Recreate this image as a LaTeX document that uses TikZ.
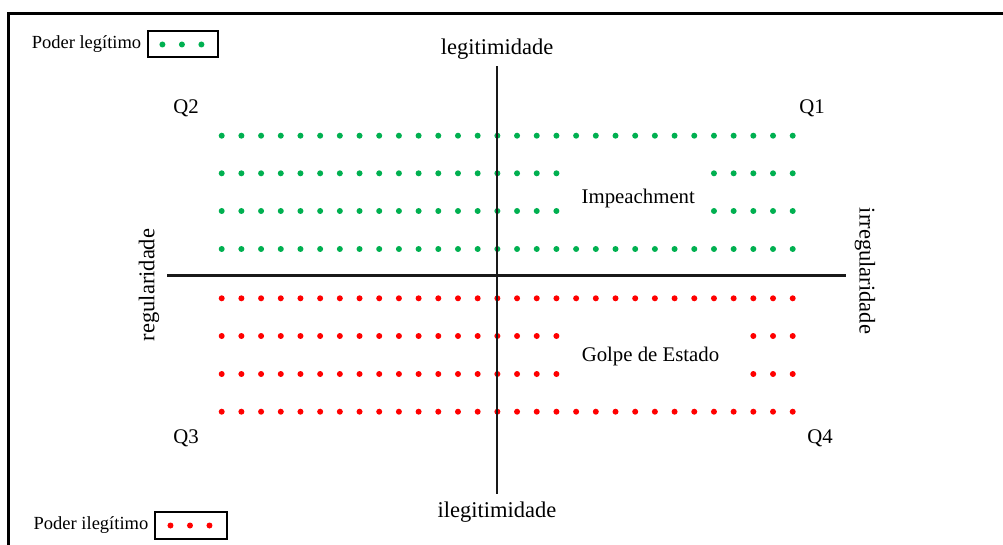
\documentclass[tikz,border=0pt]{standalone}
\usepackage{fontspec}
\setmainfont{Liberation Serif}
\usetikzlibrary{positioning,calc}

\definecolor{legit}{RGB}{0,176,80}
\definecolor{ilegit}{RGB}{255,0,0}

\begin{document}
\begin{tikzpicture}[x=1pt,y=-1pt,node distance=6pt]
\tikzstyle{lbl}=[inner sep=0pt, font=\fontsize{20.8}{24}\selectfont]
\tikzstyle{axlbl}=[inner sep=0pt, font=\fontsize{22.5}{26}\selectfont]
\tikzstyle{leg}=[inner sep=0pt, font=\fontsize{18.5}{22}\selectfont]
\tikzstyle{legbox}=[draw, line width=2pt, minimum width=70pt, minimum height=26pt, inner sep=0pt]
\tikzstyle{axis}=[line width=2.2pt, black!90]
\useasboundingbox (0,0) rectangle (1003,545);
\clip (0,0) rectangle (1003,545);
\draw[line width=2.5pt] (1010,13.5) -- (8.5,13.5) -- (8.5,560);

% legenda
\node[leg] (lgtxt) at (86.5,44.5) {Poder legítimo};
\node[legbox, right=6pt of lgtxt] (lgbox) {};
\node[leg] (iltxt) at (91,525.5) {Poder ilegítimo};
\node[legbox, right=6pt of iltxt, minimum width=72pt, minimum height=27pt] (ilbox) {};
\foreach \dx in {-21,-1.5,18} {
  \fill[legit] ($(lgbox.center)+(\dx,0)$) circle (3pt);
  \fill[ilegit] ($(ilbox.center)+(\dx,0)$) circle (3pt);
}

% pontos
\foreach \y in {135.7,249}
  \foreach \i in {0,...,29}
    \fill[legit] (221.7+19.69*\i,\y) circle (3pt);
\foreach \y in {173.3,211}
  \foreach \i in {0,...,17,25,26,...,29}
    \fill[legit] (221.7+19.69*\i,\y) circle (3pt);
\foreach \y in {298.3,411.7}
  \foreach \i in {0,...,29}
    \fill[ilegit] (221.7+19.69*\i,\y) circle (3pt);
\foreach \y in {336,374}
  \foreach \i in {0,...,17,27,28,29}
    \fill[ilegit] (221.7+19.69*\i,\y) circle (3pt);

% eixos
\coordinate (ytop) at (497,66.5);
\coordinate (ybot) at (497,494);
\coordinate (xlft) at (167,275.5);
\coordinate (xrgt) at (846,275.5);
\draw[axis] (ytop) -- (ybot);
\draw[axis] (xlft) -- (xrgt);

\node[axlbl, above=7pt of ytop] (legitim) {legitimidade};
\node[axlbl, below=8pt of ybot] (ilegitim) {ilegitimidade};
\node[axlbl, rotate=90] (regul) at (149,285) {regularidade};
\node[axlbl, rotate=-90] (irregul) at (865,271) {irregularidade};

\node[lbl] (q1) at (812,108) {Q1};
\node[lbl] (q2) at (186,108) {Q2};
\node[lbl] (q3) at (186,438) {Q3};
\node[lbl] (q4) at (820,438) {Q4};

\node[lbl] (impeach) at (638.3,198) {Impeachment};
\node[lbl] (golpe) at (650.5,356.5) {Golpe de Estado};
\end{tikzpicture}
\end{document}
